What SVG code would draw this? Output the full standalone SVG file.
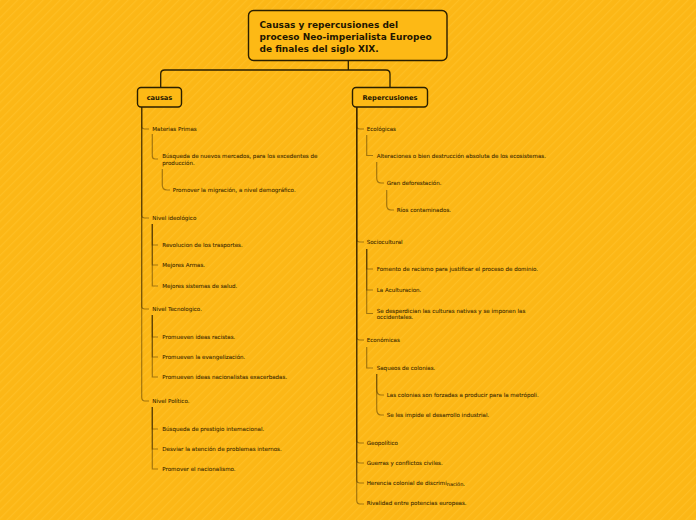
<svg xmlns="http://www.w3.org/2000/svg" width="696" height="520" viewBox="0 0 696 520">
  <defs>
    <pattern id="stripes" width="6" height="6" patternUnits="userSpaceOnUse" patternTransform="rotate(45)">
      <rect width="6" height="6" fill="#FCB716"/>
      <rect width="1.2" height="6" fill="#FFC22E" opacity="0.55"/>
    </pattern>
  </defs>
  <style>
    .box { fill: #FDB915; stroke: #2a1f00; stroke-width: 1.4; }
    .title { font-family: "DejaVu Sans", Verdana, sans-serif; font-weight: bold; font-size: 9px; fill: #1f1600; }
    .main { font-family: "DejaVu Sans", Verdana, sans-serif; font-weight: bold; font-size: 6.7px; fill: #1f1600; text-anchor: middle; }
    .lbl { font-family: "DejaVu Sans", Verdana, sans-serif; font-size: 5.55px; fill: #3a2800; stroke: #3a2800; stroke-width: 0.08; }
    .root-link { fill: none; stroke: #2a1f00; stroke-width: 1.3; }
    .link { fill: none; stroke: #3a2500; stroke-width: 1.2; stroke-opacity: 0.45; }
  </style>
  <rect width="696" height="520" fill="url(#stripes)"/>

  <g id="connectors">
    <path class="root-link" d="M348.3,61 V70 M160.7,88 V74 Q160.7,70 164.7,70 H386 Q390,70 390,74 V88"/>
    <!-- causas trunk -->
    <path class="link" d="M141.7,107 V126 Q141.7,129 145,129 H149"/>
    <path class="link" d="M141.7,107 V215 Q141.7,218 145,218 H149"/>
    <path class="link" d="M141.7,107 V306 Q141.7,309 145,309 H149"/>
    <path class="link" d="M141.7,107 V397 Q141.7,401 145,401 H149"/>
    <!-- Materias Primas -->
    <path class="link" d="M152.3,134 V156 Q152.3,159 155,159 H158"/>
    <path class="link" d="M162.3,169 V185 Q162.3,190 167,190 H170"/>
    <!-- Nivel ideologico -->
    <path class="link" d="M152.3,224 V245 H158"/>
    <path class="link" d="M152.3,224 V265 H158"/>
    <path class="link" d="M152.3,224 V286 H158"/>
    <!-- Nivel Tecnologico -->
    <path class="link" d="M152.3,315 V337 H158"/>
    <path class="link" d="M152.3,315 V357 H158"/>
    <path class="link" d="M152.3,315 V377 H158"/>
    <!-- Nivel Politico -->
    <path class="link" d="M152.3,407 V429 H158"/>
    <path class="link" d="M152.3,407 V449 H158"/>
    <path class="link" d="M152.3,407 V469 H158"/>
    <!-- Repercusiones trunk -->
    <path class="link" d="M356.7,107 V126 Q356.7,129 360,129 H364"/>
    <path class="link" d="M356.7,107 V239 Q356.7,242 360,242 H364"/>
    <path class="link" d="M356.7,107 V337 Q356.7,340 360,340 H364"/>
    <path class="link" d="M356.7,107 V440 Q356.7,443 360,443 H364"/>
    <path class="link" d="M356.7,107 V460 Q356.7,463 360,463 H364"/>
    <path class="link" d="M356.7,107 V480 Q356.7,483 360,483 H364"/>
    <path class="link" d="M356.7,107 V500 Q356.7,504 360,504 H364"/>
    <!-- Ecologicas -->
    <path class="link" d="M366.7,135 V155.5 H373"/>
    <path class="link" d="M376.7,162 V178 Q376.7,183 381,183 H384"/>
    <path class="link" d="M386.7,190 V205 Q386.7,210 391,210 H394"/>
    <!-- Sociocultural -->
    <path class="link" d="M366.7,249 V269 H373"/>
    <path class="link" d="M366.7,249 V290 H373"/>
    <path class="link" d="M366.7,249 V313.5 H373"/>
    <!-- Economicas -->
    <path class="link" d="M366.7,347 V368 H373"/>
    <path class="link" d="M376.7,374 V389 Q376.7,395 381,395 H384"/>
    <path class="link" d="M376.7,374 V409 Q376.7,415 381,415 H384"/>
  </g>

  <g id="root">
    <rect class="box" x="248.5" y="10.5" width="198.5" height="50" rx="5"/>
    <text class="title" x="259.5" y="28">Causas y repercusiones del</text>
    <text class="title" x="259.5" y="39.8">proceso Neo-imperialista Europeo</text>
    <text class="title" x="259.5" y="51.5">de finales del siglo XIX.</text>
  </g>

  <g id="causas">
    <rect class="box" x="137.5" y="87.5" width="44" height="19.5" rx="3.5"/>
    <text class="main" x="159.5" y="99.8">causas</text>
  </g>
  <g id="repercusiones">
    <rect class="box" x="352.5" y="87.5" width="75" height="19.5" rx="3.5"/>
    <text class="main" x="390" y="99.8">Repercusiones</text>
  </g>

  <g id="materias-primas"><text class="lbl" x="152.3" y="131">Materias Primas</text></g>
  <g id="busqueda-mercados"><text class="lbl" x="162.3" y="158">Búsqueda de nuevos mercados, para los excedentes de</text><text class="lbl" x="162.3" y="165">producción.</text></g>
  <g id="promover-migracion"><text class="lbl" x="172.7" y="192">Promover la migración, a nivel demográfico.</text></g>

  <g id="nivel-ideologico"><text class="lbl" x="152.3" y="220">Nivel ideológico</text></g>
  <g id="revolucion"><text class="lbl" x="162.3" y="247">Revolucion de los trasportes.</text></g>
  <g id="mejores-armas"><text class="lbl" x="162.3" y="267.3">Mejores Armas.</text></g>
  <g id="mejores-salud"><text class="lbl" x="162.3" y="287.8">Mejores sistemas de salud.</text></g>

  <g id="nivel-tecnologico"><text class="lbl" x="152.3" y="311.2">Nivel Tecnologico.</text></g>
  <g id="racistas"><text class="lbl" x="162.3" y="339.3">Promueven ideas racistas.</text></g>
  <g id="evangelizacion"><text class="lbl" x="162.3" y="359.3">Promueven la evangelización.</text></g>
  <g id="nacionalistas"><text class="lbl" x="162.3" y="379.3">Promueven ideas nacionalistas exacerbadas.</text></g>

  <g id="nivel-politico"><text class="lbl" x="152.3" y="402.8">Nivel Político.</text></g>
  <g id="prestigio"><text class="lbl" x="162.3" y="431">Búsqueda de prestigio internacional.</text></g>
  <g id="desviar"><text class="lbl" x="162.3" y="451">Desviar la atención de problemas internos.</text></g>
  <g id="nacionalismo"><text class="lbl" x="162.3" y="471">Promover el nacionalismo.</text></g>

  <g id="ecologicas"><text class="lbl" x="366.7" y="131">Ecológicas</text></g>
  <g id="alteraciones"><text class="lbl" x="376.7" y="158">Alteraciones o bien destrucción absoluta de los ecosistemas.</text></g>
  <g id="deforestacion"><text class="lbl" x="386.7" y="184.8">Gran deforestación.</text></g>
  <g id="rios"><text class="lbl" x="396.7" y="212">Ríos contaminados.</text></g>

  <g id="sociocultural"><text class="lbl" x="366.7" y="243.8">Sociocultural</text></g>
  <g id="fomento"><text class="lbl" x="376.7" y="271">Fomento de racismo para justificar el proceso de dominio.</text></g>
  <g id="aculturacion"><text class="lbl" x="376.7" y="292">La Aculturacion.</text></g>
  <g id="desperdician"><text class="lbl" x="376.7" y="312.7">Se desperdician las culturas nativas y se imponen las</text><text class="lbl" x="376.7" y="319.4">occidentales.</text></g>

  <g id="economicas"><text class="lbl" x="366.7" y="342">Económicas</text></g>
  <g id="saqueos"><text class="lbl" x="376.7" y="370">Saqueos de colonias.</text></g>
  <g id="forzadas"><text class="lbl" x="386.7" y="397">Las colonias son forzadas a producir para la metrópoli.</text></g>
  <g id="impide"><text class="lbl" x="386.7" y="417">Se les impide el desarrollo industrial.</text></g>

  <g id="geopolitico"><text class="lbl" x="366.7" y="445.3">Geopolítico</text></g>
  <g id="guerras"><text class="lbl" x="366.7" y="465.3">Guerras y conflictos civiles.</text></g>
  <g id="herencia"><text class="lbl" x="366.7" y="485">Herencia colonial de discrimi<tspan font-size="5" dy="1.2">nación.</tspan></text></g>
  <g id="rivalidad"><text class="lbl" x="366.7" y="505.3">Rivalidad entre potencias europeas.</text></g>
</svg>
